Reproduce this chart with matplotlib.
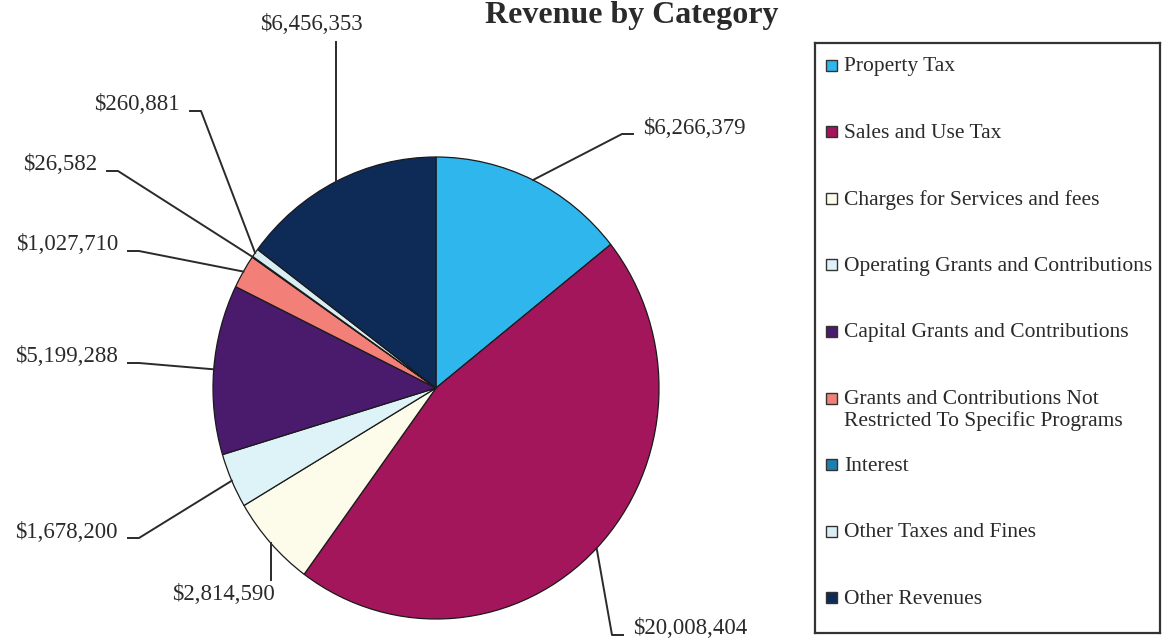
import numpy as np
import matplotlib.pyplot as plt
from matplotlib.patches import Rectangle

# data
categories = ['Property Tax', 'Sales and Use Tax', 'Charges for Services and fees',
              'Operating Grants and Contributions', 'Capital Grants and Contributions',
              'Grants and Contributions Not\nRestricted To Specific Programs',
              'Interest', 'Other Taxes and Fines', 'Other Revenues']
revenue = [6266379, 20008404, 2814590, 1678200, 5199288, 1027710, 26582, 260881, 6456353]
colors = ['#2fb6ec', '#a3165b', '#fdfbe9', '#def3f7', '#4a1a6c',
          '#f27f78', '#1d7fae', '#d9eef3', '#0e2a56']

# value label anchors (pixels in the 1164x644 picture) and alignment
label_pos = [(643, 128, 'left'), (633, 629, 'left'), (223, 594, 'center'),
             (118, 532, 'right'), (118, 357, 'right'), (118, 245, 'right'),
             (97, 165, 'right'), (180, 105, 'right'), (311, 25, 'center')]

plt.rcParams['font.family'] = ['Liberation Serif', 'DejaVu Serif']
ink = '#2a2a2a'

W, H = 1164, 644
fig = plt.figure(figsize=(W / 100, H / 100), dpi=100)

# pie (scanned original is slightly taller than wide)
cx, cy, rx, ry = 436, 388, 223, 231
ax = fig.add_axes([(cx - rx) / W, (H - cy - ry) / H, 2 * rx / W, 2 * ry / H])
wedges, _ = ax.pie(revenue, colors=colors, startangle=90, counterclock=False,
                   wedgeprops=dict(edgecolor='#1a1a1a', linewidth=0.9))
ax.set_aspect('auto')
ax.set_xlim(-1, 1)
ax.set_ylim(-1, 1)


def to_data(px, py):
    return (px - cx) / rx, (cy - py) / ry


for w, val, (px, py, ha) in zip(wedges, revenue, label_pos):
    mid = np.deg2rad((w.theta1 + w.theta2) / 2)
    ex, ey = np.cos(mid), np.sin(mid)
    tx, ty = to_data(px, py)
    ax.text(tx, ty, f'${val:,.0f}', ha=ha, va='center', fontsize=16.5,
            color=ink, clip_on=False)
    if ha == 'center':
        # vertical leader above / below the label
        gap = 17 if ey < ty else -14
        ly = (cy - (py + gap)) / ry
        ax.plot([ex, ex], [ly, ey], color=ink, lw=1.4, clip_on=False)
    else:
        sgn = 1 if ha == 'left' else -1
        sx = tx - sgn * 10 / rx
        elbow = sx - sgn * 11 / rx
        ly = ty - 6 / ry
        ax.plot([sx, elbow, ex], [ly, ly, ey], color=ink, lw=1.4, clip_on=False)

fig.text(632 / W, 1 - 15 / H, 'Revenue by Category', ha='center', va='center',
         fontsize=23, fontweight='bold', color=ink)

# legend box, one row per category
lx0, ly0, lx1, ly1 = 815, 43, 1160, 633
lax = fig.add_axes([lx0 / W, 1 - ly1 / H, (lx1 - lx0) / W, (ly1 - ly0) / H])
lax.set_xlim(0, lx1 - lx0)
lax.set_ylim(ly1 - ly0, 0)
lax.set_xticks([])
lax.set_yticks([])
for s in lax.spines.values():
    s.set_color('#333333')
    s.set_linewidth(1.6)

row0, step = 22, 66.6
for i, (name, c) in enumerate(zip(categories, colors)):
    yc = row0 + step * i
    lax.add_patch(Rectangle((11, yc - 5.5), 11, 11, facecolor=c,
                            edgecolor='#333333', linewidth=1.0))
    lax.text(29, yc - 8, name, ha='left', va='top', fontsize=15.5,
             color=ink, linespacing=1.15)

fig.savefig('out.png', dpi=100)
